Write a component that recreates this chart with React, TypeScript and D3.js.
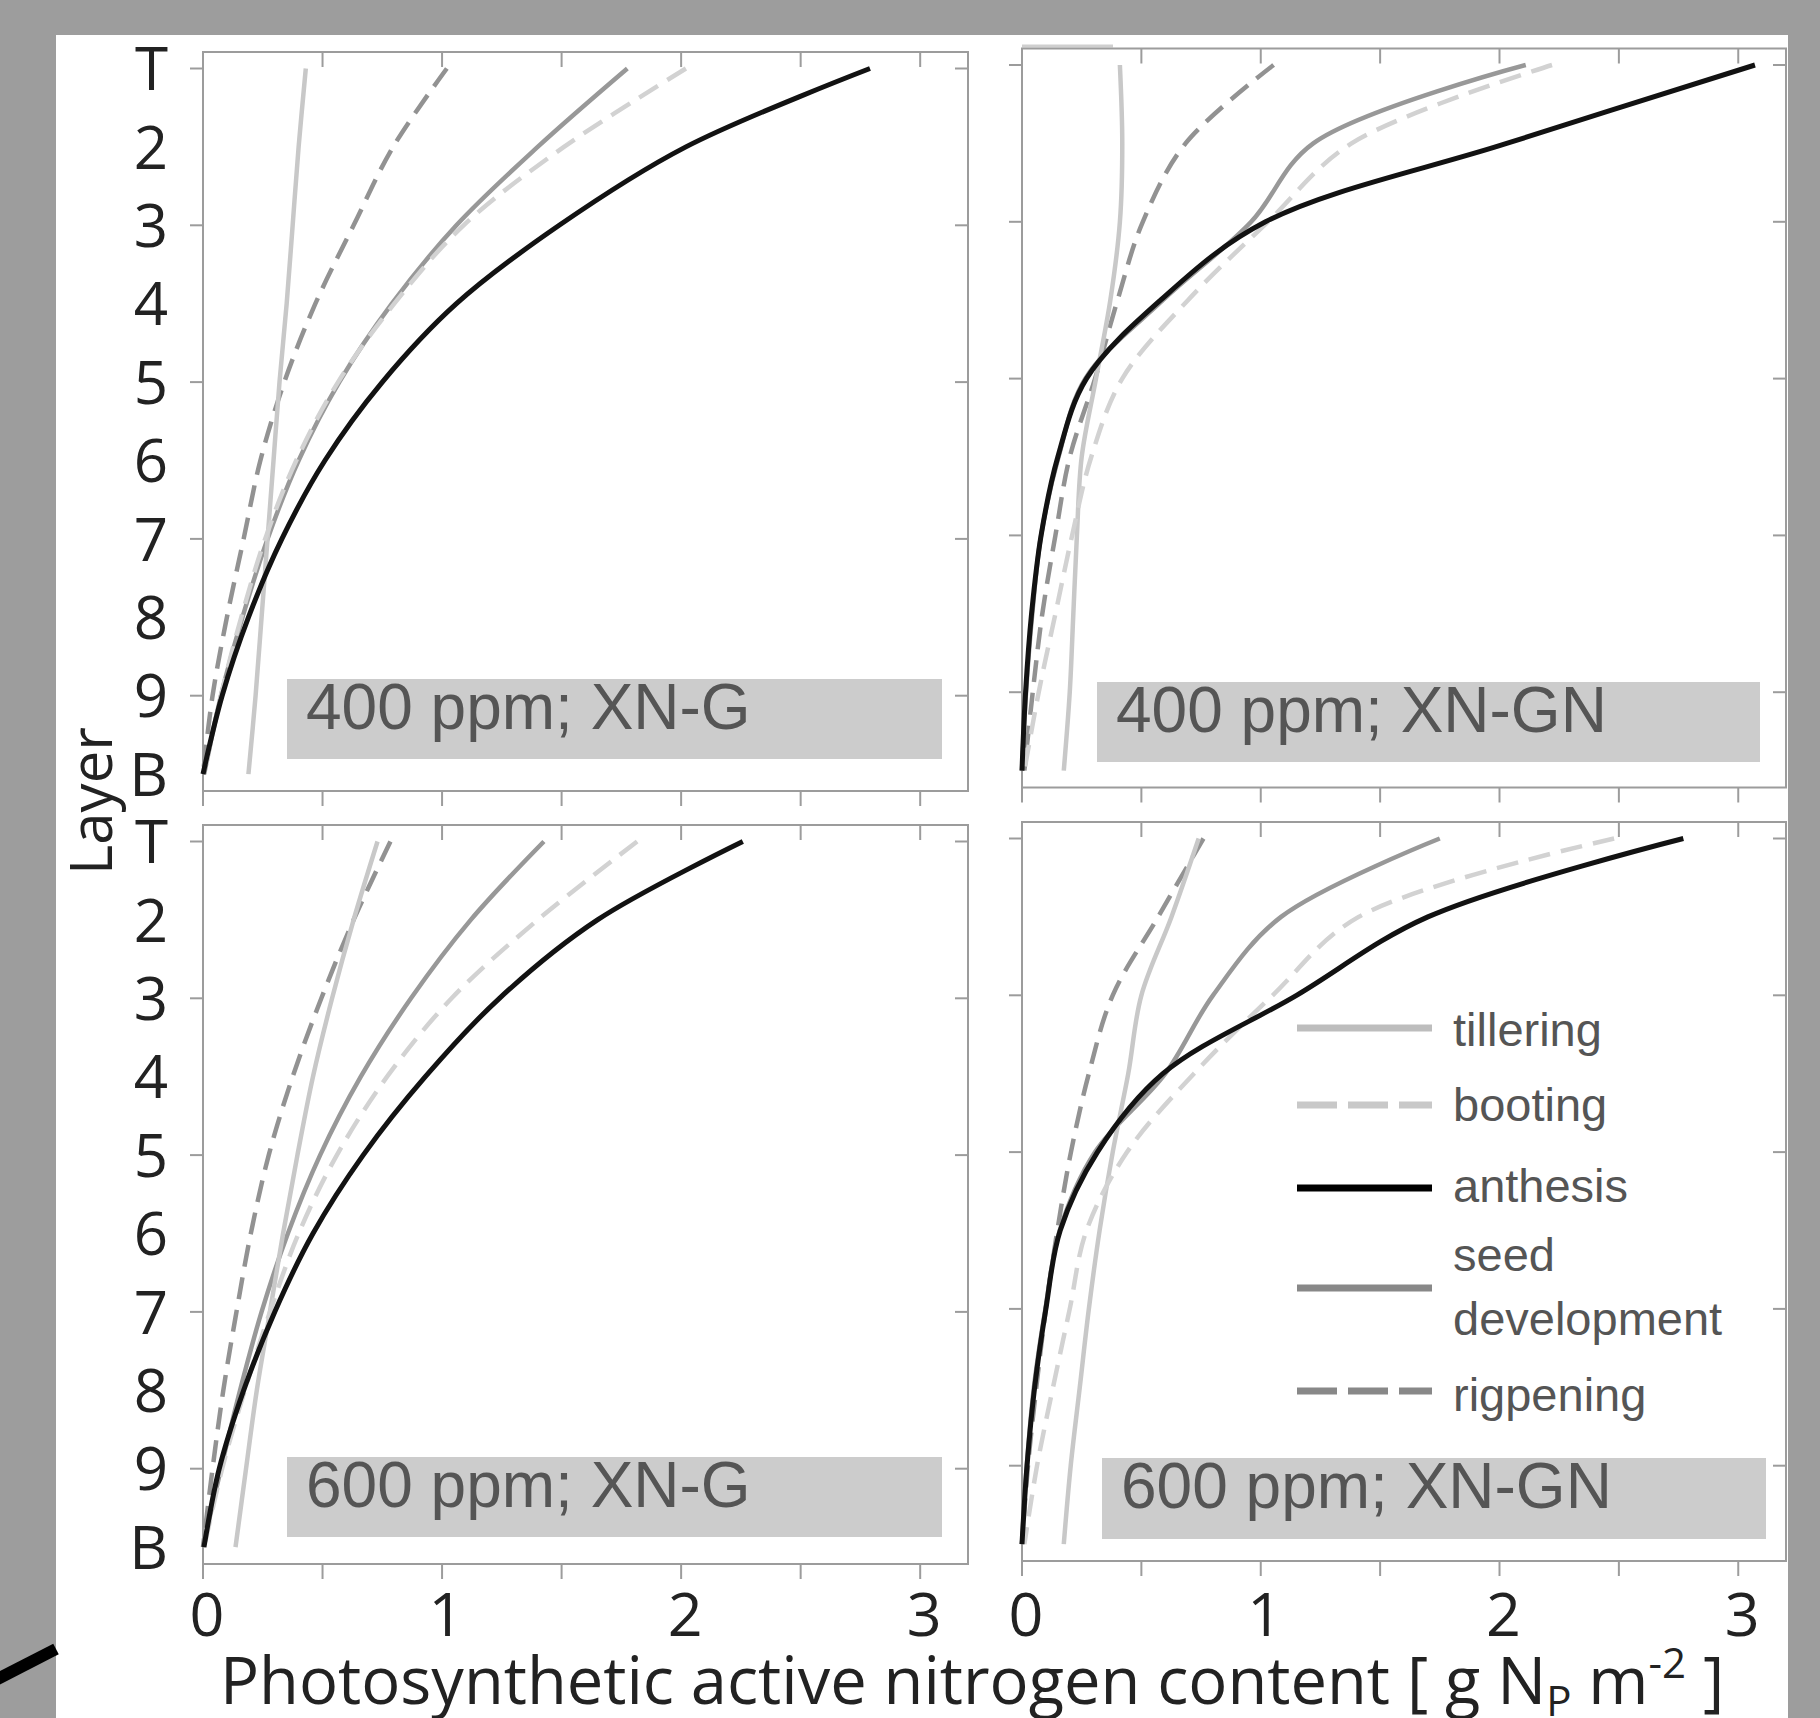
import React from "react";
import * as d3 from "d3";

const layerLabels = ["T", "2", "3", "4", "5", "6", "7", "8", "9", "B"];
const tickedLayers = ["T", "3", "5", "7", "9"];
const xTickValues = [0, 0.5, 1, 1.5, 2, 2.5, 3];
const xTickLabels = [0, 1, 2, 3];
const stages = ["tillering", "booting", "anthesis", "seed development", "rigpening"];

// 400 ppm; XN-G
const tiller400G = [0.43, 0.4, 0.375, 0.35, 0.32, 0.295, 0.27, 0.245, 0.22, 0.19];
const boot400G = [2.02, 1.51, 1.09, 0.8, 0.565, 0.39, 0.26, 0.16, 0.075, 0.005];
const anth400G = [2.79, 2.02, 1.49, 1.06, 0.75, 0.51, 0.33, 0.19, 0.08, 0.0];
const seed400G = [1.775, 1.4, 1.06, 0.79, 0.57, 0.4, 0.27, 0.165, 0.075, 0.005];
const ripe400G = [1.02, 0.795, 0.63, 0.47, 0.34, 0.24, 0.17, 0.1, 0.04, 0.0];

// 400 ppm; XN-GN
const tiller400GN = [0.41, 0.42, 0.41, 0.37, 0.31, 0.25, 0.23, 0.215, 0.2, 0.175];
const boot400GN = [2.22, 1.38, 1.03, 0.695, 0.42, 0.29, 0.21, 0.14, 0.07, 0.01];
const anth400GN = [3.07, 2.03, 1.02, 0.58, 0.27, 0.15, 0.08, 0.04, 0.015, 0.0];
const seed400GN = [2.11, 1.22, 0.96, 0.59, 0.265, 0.153, 0.08, 0.043, 0.017, 0.0];
const ripe400GN = [1.054, 0.685, 0.506, 0.4, 0.306, 0.2, 0.14, 0.085, 0.045, 0.01];

// 600 ppm; XN-G
const tiller600G = [0.73, 0.63, 0.54, 0.46, 0.395, 0.335, 0.28, 0.225, 0.18, 0.136];
const boot600G = [1.816, 1.4, 1.04, 0.77, 0.56, 0.4, 0.28, 0.175, 0.08, 0.005];
const anth600G = [2.258, 1.65, 1.24, 0.93, 0.67, 0.46, 0.3, 0.17, 0.068, 0.004];
const seed600G = [1.426, 1.12, 0.87, 0.66, 0.49, 0.355, 0.245, 0.155, 0.075, 0.0];
const ripe600G = [0.784, 0.63, 0.495, 0.375, 0.275, 0.2, 0.14, 0.085, 0.04, 0.0];

// 600 ppm; XN-GN
const tiller600GN = [0.74, 0.626, 0.5, 0.445, 0.38, 0.325, 0.28, 0.242, 0.204, 0.175];
const boot600GN = [2.48, 1.41, 1.05, 0.72, 0.44, 0.27, 0.2, 0.13, 0.063, 0.01];
const anth600GN = [2.77, 1.7, 1.15, 0.59, 0.316, 0.16, 0.1, 0.053, 0.021, 0.0];
const seed600GN = [1.75, 1.085, 0.8, 0.6, 0.306, 0.158, 0.098, 0.05, 0.02, 0.0];
const ripe600GN = [0.76, 0.57, 0.38, 0.28, 0.205, 0.148, 0.1, 0.06, 0.025, 0.0];

const stageStyle: Record<string, { stroke: string; width: number; dash?: string; legendStroke: string }> = {
  tillering: { stroke: "#c8c8c8", width: 4.5, legendStroke: "#bdbdbd" },
  booting: { stroke: "#d2d2d2", width: 4.5, dash: "22,11", legendStroke: "#c8c8c8" },
  anthesis: { stroke: "#121212", width: 5, legendStroke: "#000" },
  "seed development": { stroke: "#989898", width: 4.5, legendStroke: "#888" },
  rigpening: { stroke: "#929292", width: 4.5, dash: "22,11", legendStroke: "#888" },
};
const drawOrder = [3, 4, 0, 1, 2];

const panels = [
  {
    label: "400 ppm; XN-G", left: 203, right: 968, top: 52,
    box: { x: 287, y: 679, w: 655, h: 80 },
    series: [tiller400G, boot400G, anth400G, seed400G, ripe400G],
  },
  {
    label: "400 ppm; XN-GN", left: 1022, right: 1786, top: 48.5,
    box: { x: 1097, y: 682, w: 663, h: 80 },
    series: [tiller400GN, boot400GN, anth400GN, seed400GN, ripe400GN],
  },
  {
    label: "600 ppm; XN-G", left: 203, right: 968, top: 825, xLabels: true,
    box: { x: 287, y: 1457, w: 655, h: 80 },
    series: [tiller600G, boot600G, anth600G, seed600G, ripe600G],
  },
  {
    label: "600 ppm; XN-GN", left: 1022, right: 1786, top: 822, xLabels: true, legend: true,
    box: { x: 1102, y: 1458, w: 664, h: 81 },
    series: [tiller600GN, boot600GN, anth600GN, seed600GN, ripe600GN],
  },
];

const frameH = 739;
const axisFont = "'Open Sans', 'Noto Sans', sans-serif";
const boxFont = "'Liberation Sans', Arial, sans-serif";

// legend rows: line y, text lines with baselines
const legendRows = [
  { stage: "tillering", lineY: 1028, text: [["tillering", 1046]] },
  { stage: "booting", lineY: 1105, text: [["booting", 1121]] },
  { stage: "anthesis", lineY: 1188, text: [["anthesis", 1202]] },
  { stage: "seed development", lineY: 1288, text: [["seed", 1271], ["development", 1335]] },
  { stage: "rigpening", lineY: 1391, text: [["rigpening", 1411]] },
];

function Panel({ p }: { p: any }) {
  const bottom = p.top + frameH;
  const x = d3.scaleLinear().domain([0, 3.2]).range([p.left, p.right]);
  const y = d3
    .scalePoint<string>()
    .domain(layerLabels)
    .range([p.top + 16.5, p.top + 16.5 + 9 * 78.4]);

  const line = d3
    .line<number>()
    .x((d) => x(d))
    .y((d, i) => y(layerLabels[i]) as number)
    .curve(d3.curveCatmullRom.alpha(0.5));

  return (
    <g>
      <rect x={p.left} y={p.top} width={p.right - p.left} height={frameH} fill="none" stroke="#9c9c9c" strokeWidth={2} />
      {xTickValues.map((t) => (
        <g key={"xt" + t} stroke="#9c9c9c" strokeWidth={2}>
          <line x1={x(t)} x2={x(t)} y1={p.top} y2={p.top + 15} />
          <line x1={x(t)} x2={x(t)} y1={bottom} y2={bottom + 15} />
        </g>
      ))}
      {tickedLayers.map((l) => (
        <g key={"yt" + l} stroke="#9c9c9c" strokeWidth={2}>
          <line x1={p.left - 13} x2={p.left} y1={y(l)} y2={y(l)} />
          <line x1={p.right - 13} x2={p.right} y1={y(l)} y2={y(l)} />
        </g>
      ))}
      {p.left < 500 &&
        layerLabels.map((l) => (
          <text key={"yl" + l} x={p.left - 35} y={y(l)} dy="0.36em" textAnchor="end"
            fontFamily={axisFont} fontSize={60} fill="#222">
            {l}
          </text>
        ))}
      {p.xLabels &&
        xTickLabels.map((t) => (
          <text key={"xl" + t} x={x(t) + 4} y={1636} textAnchor="middle"
            fontFamily={axisFont} fontSize={61} fill="#222">
            {t}
          </text>
        ))}
      <rect x={p.box.x} y={p.box.y} width={p.box.w} height={p.box.h} fill="#cccccc" />
      <text x={p.box.x + 19} y={p.box.y + 50} fontFamily={boxFont} fontSize={64} fill="#555">
        {p.label}
      </text>
      {drawOrder.map((si) => {
        const st = stageStyle[stages[si]];
        return (
          <path key={stages[si]} d={line(p.series[si]) as string} fill="none" stroke={st.stroke}
            strokeWidth={st.width} strokeDasharray={st.dash} />
        );
      })}
      {p.legend &&
        legendRows.map((r) => {
          const st = stageStyle[r.stage];
          return (
            <g key={"lg" + r.stage}>
              <line x1={1297} x2={1432} y1={r.lineY} y2={r.lineY} stroke={st.legendStroke} strokeWidth={7}
                strokeDasharray={st.dash ? "40,11" : undefined} />
              {r.text.map(([t, by]) => (
                <text key={t as string} x={1453} y={by as number} fontFamily={boxFont} fontSize={47} fill="#555">
                  {t}
                </text>
              ))}
            </g>
          );
        })}
    </g>
  );
}

export default function App() {
  return (
    <div style={{ position: "absolute", left: 0, top: 0 }}>
      <svg width={1820} height={1718} style={{ display: "block" }}>
        <rect x={0} y={0} width={1820} height={1718} fill="#9d9d9d" />
        <rect x={56} y={35} width={1732} height={1683} fill="#ffffff" />
        <line x1={-10} y1={1683} x2={56} y2={1649} stroke="#000" strokeWidth={12} />
        <line x1={1022} x2={1113} y1={46} y2={46} stroke="#cfcfcf" strokeWidth={3} />
        {panels.map((p) => (
          <Panel key={p.label} p={p} />
        ))}
        <text x={112} y={801} transform="rotate(-90 112 801)" textAnchor="middle"
          fontFamily={axisFont} fontSize={58} fill="#222">
          Layer
        </text>
        <text x={220} y={1704} fontFamily={axisFont} fontSize={65} fill="#222">
          Photosynthetic active nitrogen content [ g N
          <tspan fontSize={42} dy={12}>P</tspan>
          <tspan dy={-12}> m</tspan>
          <tspan fontSize={42} dy={-26}>-2</tspan>
          <tspan dy={26}> ]</tspan>
        </text>
      </svg>
    </div>
  );
}
